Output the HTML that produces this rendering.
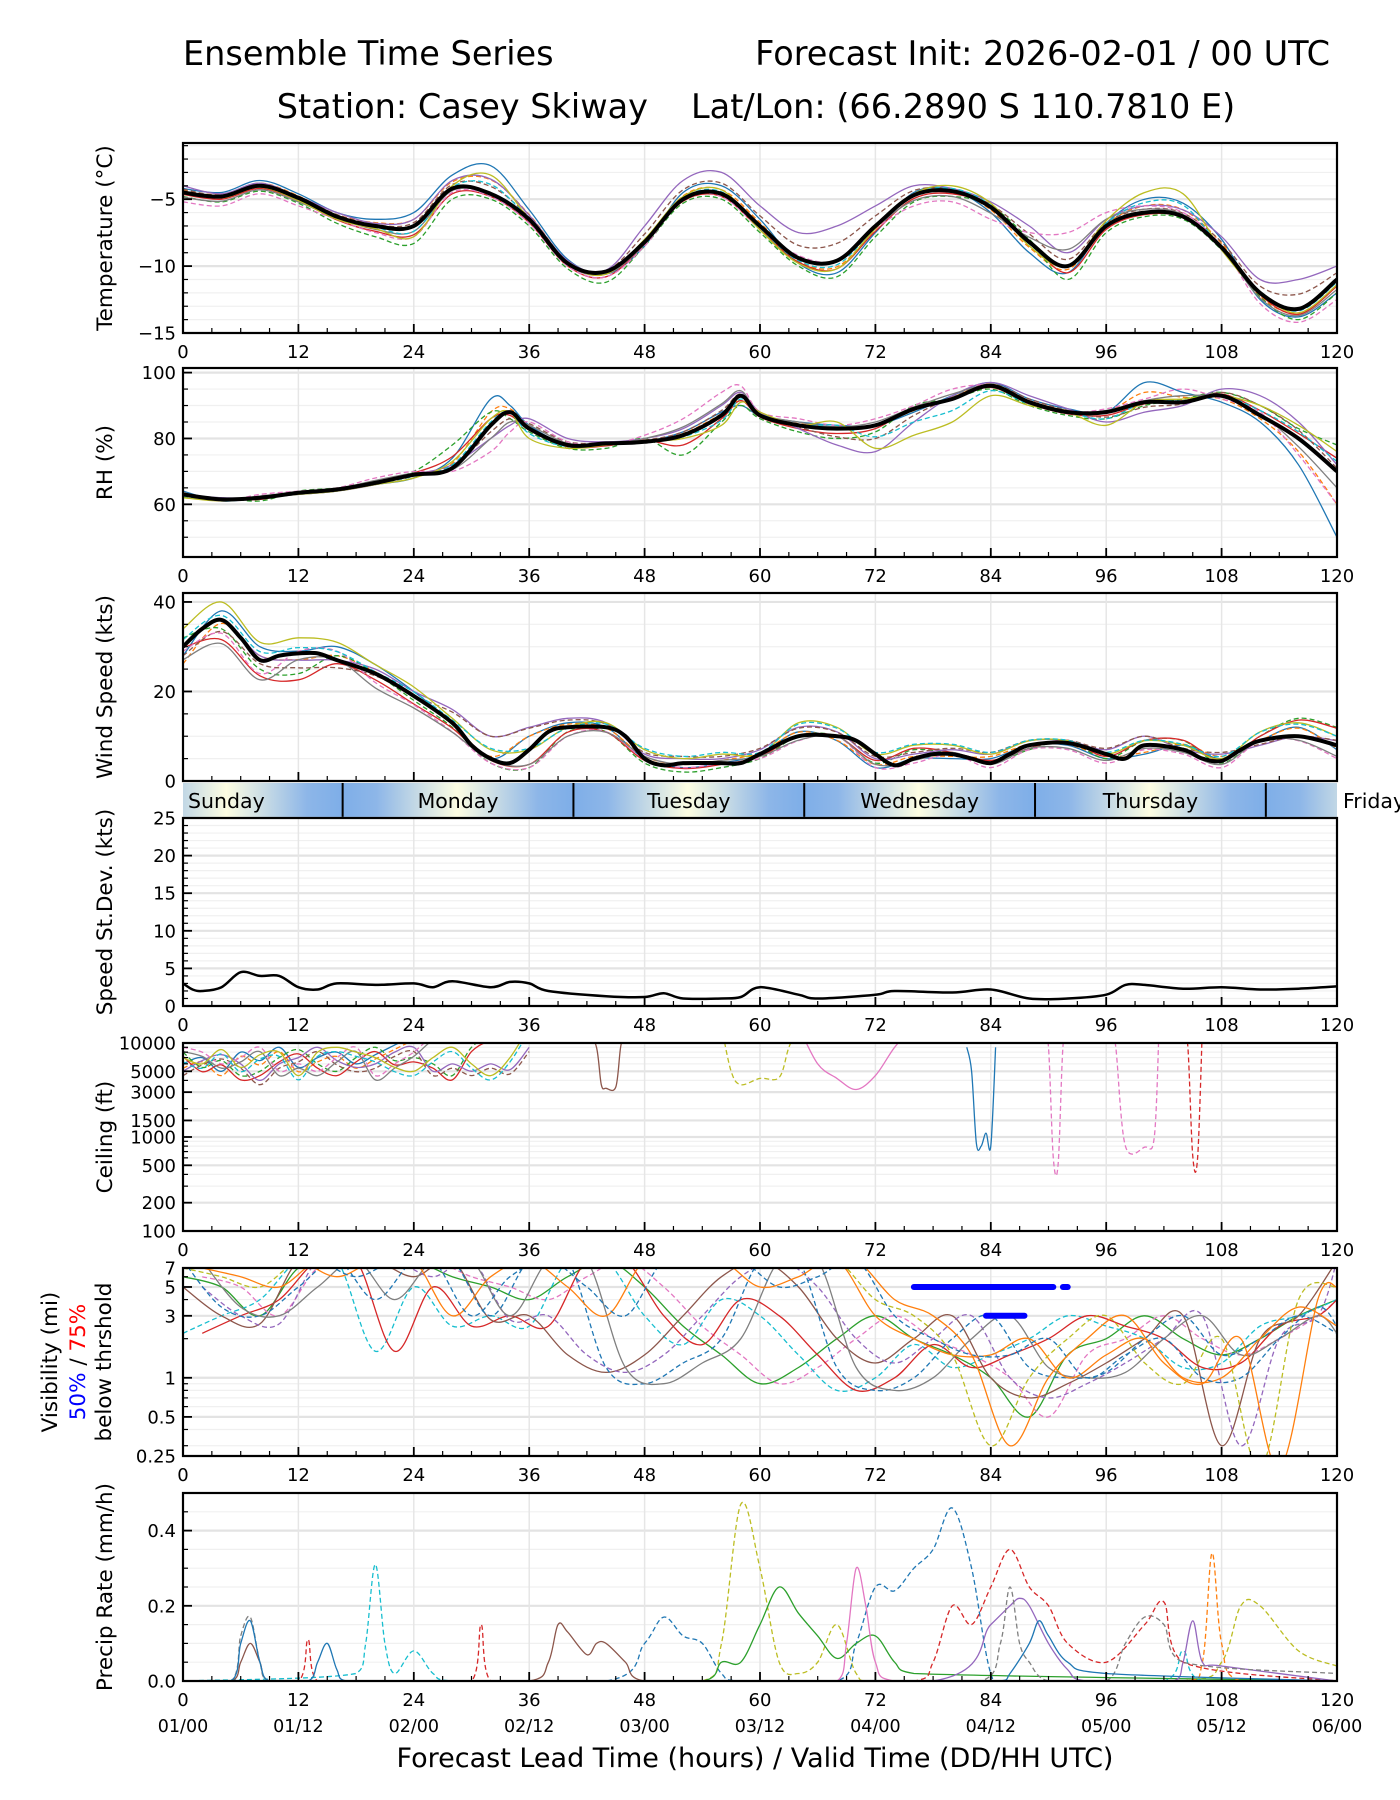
<!DOCTYPE html>
<html><head><meta charset="utf-8"><style>
html,body{margin:0;padding:0;background:#fff;}
svg{display:block;font-family:"DejaVu Sans","Liberation Sans",sans-serif;}
</style></head><body>
<svg id="fig" width="1400" height="1800" viewBox="0 0 1400 1800" xmlns="http://www.w3.org/2000/svg">
<defs>
<linearGradient id="dayGrad" gradientUnits="userSpaceOnUse" x1="341.7" y1="0" x2="572.5" y2="0" spreadMethod="repeat">
<stop offset="0" stop-color="#7eaee8"/><stop offset="0.15" stop-color="#8db6e8"/><stop offset="0.5" stop-color="#fdfde2"/><stop offset="0.85" stop-color="#8db6e8"/><stop offset="1" stop-color="#7eaee8"/>
</linearGradient>
</defs>
<text x="183" y="65" font-size="33.5">Ensemble Time Series</text>
<text x="1330" y="65" font-size="33.5" text-anchor="end">Forecast Init: 2026-02-01 / 00 UTC</text>
<text x="648" y="118" font-size="33.5" text-anchor="end">Station: Casey Skiway</text>
<text x="691" y="118" font-size="33.5">Lat/Lon: (66.2890 S 110.7810 E)</text>
<g id="root"></g>
</svg>
<script>
// ---------- data ----------
const hours4 = [0,4,8,12,16,20,24,28,32,36,40,44,48,52,56,60,64,68,72,76,80,84,88,92,96,100,104,108,112,116,120];
const tempMean = [-4.5,-4.8,-4.0,-4.9,-6.3,-7.0,-7.0,-4.2,-4.6,-6.5,-9.8,-10.4,-8.2,-5.0,-4.6,-7.0,-9.4,-9.6,-7.0,-4.7,-4.4,-5.6,-8.2,-10.0,-7.0,-6.0,-6.3,-8.6,-12.0,-13.2,-11.0];
const tempA = [-4.2,-4.5,-3.6,-4.6,-6.0,-6.5,-6.0,-3.2,-2.5,-5.8,-9.5,-10.6,-8.5,-4.5,-4.0,-6.5,-9.8,-10.5,-7.5,-4.5,-4.3,-6.0,-9.0,-10.5,-6.8,-5.0,-5.3,-8.0,-12.5,-13.8,-12.0];
const tempB = [-4.8,-5.2,-4.4,-5.3,-6.8,-7.8,-8.3,-5.0,-5.0,-7.0,-10.2,-11.2,-8.5,-5.3,-5.0,-7.5,-10.0,-10.8,-7.8,-5.2,-4.8,-5.5,-8.0,-11.0,-7.5,-6.3,-6.5,-8.8,-12.3,-14.0,-12.0];
const tempC = [-4.0,-4.6,-3.8,-4.8,-6.0,-6.8,-6.5,-3.6,-3.5,-6.2,-9.6,-10.3,-7.0,-3.6,-3.0,-5.5,-7.5,-7.0,-5.5,-4.0,-4.2,-5.2,-7.0,-9.0,-6.5,-5.5,-5.8,-7.8,-11.0,-11.0,-10.0];
const tempD = [-5.2,-5.5,-4.6,-5.5,-6.5,-7.5,-7.8,-4.5,-4.8,-6.8,-10.0,-10.8,-8.5,-5.0,-4.8,-7.2,-9.2,-9.6,-7.2,-5.5,-5.2,-6.5,-7.5,-7.5,-6.0,-5.5,-6.0,-8.5,-12.8,-14.2,-12.5];
const tempE = [-4.4,-4.9,-4.1,-5.1,-6.5,-7.2,-7.8,-4.0,-3.2,-6.5,-9.8,-10.6,-8.0,-4.8,-4.3,-7.3,-9.8,-10.2,-7.2,-4.6,-4.0,-5.3,-8.5,-10.0,-6.6,-4.5,-4.6,-8.8,-12.0,-13.5,-11.4];
const rhHours = [0,4,8,12,16,20,24,28,32,34,36,40,44,48,52,56,58,60,64,68,72,76,80,84,88,92,96,100,104,108,112,116,120];
const rhMean = [63,61.5,62,63.5,64.5,66.5,69,71,84,88,83,78,78.5,79,81,87,93,87,84,83,84,89,92,96,91,88,88,91,91,93,87,80,70];
const rhA = [64,61,62,63,64,66,68,74,92,90,84,78,78,79,82,88,90,87,85,84,84,88,93,97,92,89,88,97,94,91,85,72,50];
const rhB = [62,62,61,64,65,67,70,78,88,86,82,77,77,80,75,85,90,86,82,80,82,90,92,95,90,87,86,90,92,94,90,83,78];
const rhC = [63,62,62,63,64,66,69,72,80,84,86,80,79,80,83,90,94,88,83,78,76,85,93,97,93,89,85,88,90,95,93,85,72];
const rhD = [63,61,63,64,65,68,70,70,76,82,85,79,78,81,86,94,96,88,86,84,86,90,95,96,91,88,89,92,95,92,88,75,60];
const rhE = [62,61,62,63,64,66,68,73,86,88,80,77,78,79,80,84,91,88,84,85,77,81,85,93,90,88,84,91,92,93,90,84,76];
const windHours = [0,2,4,6,8,10,12,14,16,20,24,28,30,32,34,36,38,40,44,46,48,50,52,56,58,60,64,68,70,72,74,76,78,80,82,84,86,88,92,96,98,100,104,106,108,110,112,116,120];
const windMean = [30,34,36,32,27,28,28.5,28.5,27,24,19,13,8,5,4,7,11,12,12,10,5,3.5,4,4,4,6,10,10,9,6,3.5,5,6,6,5,4,6,8,8.5,6,5,8,7,5,4.5,7,9,10,8];
const windA = [28,38,30,29,30,26,20,13,5,10,13,12,5,3,4,6,11,9,3,5,5,5,8,8,5,6,8,5,9,12,7];
const windB = [32,34,25,24,28,24,18,12,4,3,11,11,4,2,3,5,10,10,4,7,6,4,7,9,5,9,9,4,10,14,12];
const windC = [30,36,28,27,27,25,20,16,10,12,14,13,6,5,5,7,12,11,5,6,7,6,9,9,7,10,7,6,8,10,9];
const windD = [29,33,24,29,29,22,17,11,4,3,10,11,5,3,4,5,9,10,3,4,6,3,7,7,4,7,6,3,9,9,5];
const windE = [34,40,31,32,31,26,21,14,7,7,12,13,7,5,6,6,13,12,6,8,8,6,9,9,6,9,8,5,11,13,10];
const sdHours = [0,1,2,4,6,8,10,12,14,16,20,24,26,28,32,34,36,38,44,48,50,52,56,58,60,64,66,72,74,80,84,88,92,96,98,100,104,108,112,116,120];
const sdValues = [3,2.2,2,2.5,4.5,4,4,2.5,2.2,3,2.8,3,2.5,3.3,2.5,3.2,3,2,1.3,1.2,1.7,1,1,1.2,2.5,1.5,1,1.5,2,1.8,2.2,1,1,1.5,2.8,2.8,2.3,2.5,2.2,2.3,2.6];
const ceilHours = [0,2,4,6,8,10,12,14,16,18,20,22,24,26,28,30,32,34,36];
const ceil1 = [6000,7000,5000,8000,6500,9000,5500,7000,8000,6000,7500,9500,12000,15000,15000,15000,15000,15000,15000];
const ceil2 = [8000,5500,6500,4500,5000,7000,8500,6000,5000,7000,9000,6500,7000,6000,4500,9000,12000,15000,15000];
const ceil3 = [5000,6500,7500,6000,4000,6000,7000,9000,6500,5500,6000,8000,9000,5000,6000,5000,6000,5200,9000];
const ceil4 = [9000,8000,6000,7000,9000,5000,6000,5000,7000,9000,4500,6000,8000,12000,15000,15000,15000,15000,15000];
const ceil5 = [7000,6000,8500,5500,7500,8000,4500,8000,9000,8000,7000,5500,5000,7000,9000,6000,4500,7000,15000];
const ceilDip1H = [42,43,43.5,44,45,45.5,46], ceilDip1V = [15000,9000,3600,3300,3400,9000,15000];
const ceilDip2H = [81.5,82,82.5,83,83.5,84,84.5], ceilDip2V = [9000,5000,850,800,1100,800,9000];
const ceilDip3H = [89.5,90,90.5,91,91.5,92], ceilDip3V = [15000,9000,600,510,9000,15000];
const ceilDip4H = [96.5,97,98,100,101,101.5], ceilDip4V = [15000,9000,800,780,1000,15000];
const ceilDip5H = [104,104.5,105,105.5,106], ceilDip5V = [15000,9000,620,600,15000];
const ceilDip6H = [64,66,68,70,72,74,76], ceilDip6V = [15000,6000,4200,3200,4500,9000,15000];
const ceilDip7H = [56,57,58,60,62,63,64], ceilDip7V = [15000,5000,3600,4200,4300,9000,15000];
const visHours = [0,4,8,12,16,20,24,28,32,36,40,44,48,52,56,60,64,68,72,76,80,84,88,92,96,100,104,108,112,116,120];
const vis1 = [6,5,3,7,8,8,8,6,5,4,6,8,5,2.5,1.5,0.9,1.2,2,3,2,1.5,1,0.5,1.5,2,3,2,1.5,2,3,4];
const vis2 = [2.2,3,4,8,8,1.6,5,2.5,3,2.5,8,8,3,1.8,4,3,1.5,0.8,1,1.8,1.2,1.5,2,3,2.5,2,1.2,1.3,2.5,3,4];
const vis3 = [5,3,2.6,8,8,8,6,8,2.8,3,1.5,1.1,1.5,3,6,8,5,2,1.3,2,3,1,0.7,0.9,1.3,2,3,0.3,2,3,8];
const vis4 = [8,3.5,3,5,8,4,8,8,3,8,8,1.2,0.9,1.3,2,8,8,1.2,0.8,1,2,3,1.2,1,1.1,2,3,1.5,2,3,2.2];
const vis5 = [8,8,8,8,6,8,8,3,6,8,5,3,8,8,8,5,6,8,3,2,1.5,1.5,2,1,1.5,2,1,1,2,3.5,2.5];
const vis6 = [7,6,5,8,8,8,8,8,8,8,8,8,8,8,8,8,8,8,4,3,1.5,0.3,1,2,3,1.3,0.9,2,0.2,4,5];
const visBar50 = [[76,90.5],[91.5,92]], visBar50Level = 5;
const visBar75 = [[83.5,87.5]], visBar75Level = 3;
const precipHours = [
 [0,54,56,58,60,62,64,66,68,70,72,104,108,110,112,116,120],
 [0,44,48,50,52,54,56,58,68,70,72,74,76,78,80,82,84,86,120],
 [0,54,56,58,60,62,64,66,68,70,72,74,76,120],
 [0,12,13,14,30,31,32,76,78,80,82,84,86,88,90,92,96,100,102,104,120],
 [0,18,19,20,21,22,24,26,28,102,104,106,120],
 [0,68,69,70,71,72,74,120],
 [0,104,106,107,108,110,120],
 [0,5,6,7,8,9,36,38,39,40,42,43,44,46,48,120],
 [0,78,84,86,87,88,90,92,94,103,104,105,106,108,120],
 [0,5,6,7,8,9,83,85,86,87,88,90,96,98,100,102,104,120],
 [0,5,6,7,8,9,13,14,15,16,17,85,86,88,89,90,92,96,120]];
const precipValues = [
 [0,0,0.1,0.47,0.3,0.05,0.02,0.05,0.15,0.02,0,0,0.05,0.2,0.2,0.08,0.04],
 [0,0,0.1,0.17,0.12,0.1,0.02,0,0,0.1,0.25,0.24,0.3,0.35,0.46,0.3,0.02,0,0],
 [0,0,0.05,0.05,0.15,0.25,0.18,0.12,0.06,0.1,0.12,0.05,0.02,0],
 [0,0,0.11,0,0,0.15,0,0,0.05,0.2,0.15,0.25,0.35,0.25,0.2,0.1,0.05,0.15,0.21,0.05,0],
 [0,0.02,0.1,0.31,0.1,0.02,0.08,0.02,0,0,0.08,0,0],
 [0,0,0.1,0.3,0.2,0.05,0,0],
 [0,0,0.05,0.34,0.1,0,0],
 [0,0,0.05,0.1,0.05,0,0,0.05,0.15,0.13,0.07,0.1,0.1,0.05,0,0],
 [0,0,0.15,0.2,0.22,0.2,0.1,0.03,0,0,0.05,0.16,0.05,0.04,0],
 [0,0,0.12,0.17,0.05,0,0,0.1,0.25,0.1,0.05,0,0,0.1,0.17,0.15,0.05,0.02],
 [0,0,0.1,0.16,0.05,0,0,0.05,0.1,0.03,0,0,0.02,0.1,0.16,0.12,0.05,0.02,0]];
const xTicks = [0,12,24,36,48,60,72,84,96,108,120];
const dateLabels = ["01/00","01/12","02/00","02/12","03/00","03/12","04/00","04/12","05/00","05/12","06/00"];
const dayNames = ["Sunday","Monday","Tuesday","Wednesday","Thursday","Friday"];
const dayBoundaries = [16.6,40.6,64.6,88.6,112.6];

// ---------- drawing ----------
const NS="http://www.w3.org/2000/svg";
const root=document.getElementById('root');
const X0=183, X1=1337;
const xs=h=>X0+(h/120)*(X1-X0);
const COLORS=["#1f77b4","#ff7f0e","#2ca02c","#d62728","#9467bd","#8c564b","#e377c2","#7f7f7f","#bcbd22","#17becf"];
function el(tag,attrs,parent){const e=document.createElementNS(NS,tag);for(const k in attrs)e.setAttribute(k,attrs[k]);(parent||root).appendChild(e);return e;}
function smoothPath(pts){
 if(pts.length<2)return "";
 let d="M"+pts[0][0].toFixed(1)+","+pts[0][1].toFixed(1);
 for(let i=0;i<pts.length-1;i++){
  const p0=pts[i-1]||pts[i],p1=pts[i],p2=pts[i+1],p3=pts[i+2]||p2;
  const c1=[p1[0]+(p2[0]-p0[0])/6,p1[1]+(p2[1]-p0[1])/6],c2=[p2[0]-(p3[0]-p1[0])/6,p2[1]-(p3[1]-p1[1])/6];
  c1[0]=Math.min(Math.max(c1[0],p1[0]),p2[0]);c2[0]=Math.min(Math.max(c2[0],p1[0]),p2[0]);
  d+="C"+c1[0].toFixed(1)+","+c1[1].toFixed(1)+" "+c2[0].toFixed(1)+","+c2[1].toFixed(1)+" "+p2[0].toFixed(1)+","+p2[1].toFixed(1);
 }
 return d;
}
const fmt=v=>String(v).replace('-','\u2212');
let clipId=0;
function panel(cfg){
 const g=el('g',{});
 
 
 const T=cfg.top,B=cfg.bottom;
 const ys=cfg.ys;
 (cfg.minorY||[]).forEach(v=>{const l=el('line',{x1:X0,x2:X1,y1:ys(v),y2:ys(v),stroke:'#f0f0f0','stroke-width':1.2},g);
  });
 cfg.yTicks.forEach(v=>{const l=el('line',{x1:X0,x2:X1,y1:ys(v),y2:ys(v),stroke:'#e3e3e3','stroke-width':2.2},g);
  });
 xTicks.forEach(h=>{const l=el('line',{x1:xs(h),x2:xs(h),y1:T,y2:B,stroke:'#e6e6e6','stroke-width':1.5},g);
  });
 clipId++;
 const cp=el('clipPath',{id:'cp'+clipId},g);el('rect',{x:X0,y:T,width:X1-X0,height:B-T},cp);
 const dg=el('g',{'clip-path':'url(#cp'+clipId+')'},g);
 
 
 cfg.draw(dg,ys);
 const fr=el('rect',{x:X0,y:T,width:X1-X0,height:B-T,fill:'none',stroke:'#000','stroke-width':2.2},g);
 
 for(let h=0;h<=120;h+=3){const maj=h%12===0;el('line',{x1:xs(h),x2:xs(h),y1:B,y2:B-(maj?9:5),stroke:'#000','stroke-width':maj?1.8:1.2},g);}
 if(cfg.xlabels!==false) xTicks.forEach(h=>{const t=el('text',{x:xs(h),y:B+25,'font-size':18,'text-anchor':'middle'},g);t.textContent=h;
  });
 (cfg.minorY||[]).forEach(v=>el('line',{x1:X0,x2:X0+5,y1:ys(v),y2:ys(v),stroke:'#000','stroke-width':1.2},g));
 cfg.yTicks.forEach((v,i)=>{el('line',{x1:X0,x2:X0+9,y1:ys(v),y2:ys(v),stroke:'#000','stroke-width':1.8},g);
  const t=el('text',{x:X0-7,y:ys(v)+6.5,'font-size':18,'text-anchor':'end'},g);t.textContent=cfg.yLabels?cfg.yLabels[i]:fmt(v);
  });
 if(cfg.ylabel){const cy=(T+B)/2;const lx=cfg.ylx||112;const t=el('text',{x:lx,y:cy,'font-size':21.5,'text-anchor':'middle',transform:`rotate(-90 ${lx} ${cy})`},g);
  t.textContent=cfg.ylabel;}
 return g;
}
function line(g,hs,vs,ys,color,opt){
 opt=opt||{};
 const pts=hs.map((h,i)=>[xs(h),ys(vs[i])]);
 const p=el('path',{d:smoothPath(pts),fill:'none',stroke:color,'stroke-width':opt.w||1.3,'stroke-dasharray':opt.dash?'5,3':'none','stroke-linejoin':'round'},g);
 
 
 return p;
}
function lin(a,b){return v=>a.y0+(v-a.v0)*(b.y0-a.y0)/(b.v0-a.v0);}

const tempMembers=[tempA,tempB,tempC,tempD,tempE];
panel({name:'temperature',top:143,bottom:333,ys:lin({v0:-15,y0:333},{v0:-0.8,y0:143}),
 yTicks:[-15,-10,-5],minorY:[-14,-13,-12,-11,-9,-8,-7,-6,-4,-3,-2,-1],ylabel:'Temperature (°C)',
 draw:(g,ys)=>{tempMembers.forEach((m,i)=>{line(g,hours4,m,ys,COLORS[i*2%10],{dash:i%2===1});line(g,hours4,m.map((v,j)=>v+(tempMean[j]-v)*0.5),ys,COLORS[(i*2+1)%10],{dash:i%2===0});});
  line(g,hours4,tempMean,ys,'#000',{w:4,name:'ensemble-mean-line'});}});
const rhMembers=[rhA,rhB,rhC,rhD,rhE];
panel({name:'rh',top:368,bottom:557,ys:lin({v0:44,y0:557},{v0:101.4,y0:368}),
 yTicks:[60,80,100],minorY:[50,55,65,70,75,85,90,95],ylabel:'RH (%)',
 draw:(g,ys)=>{rhMembers.forEach((m,i)=>{line(g,rhHours,m,ys,COLORS[i*2%10],{dash:i%2===1});line(g,rhHours,m.map((v,j)=>v+(rhMean[j]-v)*0.5),ys,COLORS[(i*2+1)%10],{dash:i%2===0});});
  line(g,rhHours,rhMean,ys,'#000',{w:4,name:'ensemble-mean-line'});}});
const windMembers=[windA,windB,windC,windD,windE];
panel({name:'wind-speed',top:593,bottom:781,xlabels:false,ys:lin({v0:0,y0:781},{v0:42,y0:593}),
 yTicks:[0,20,40],minorY:[5,10,15,25,30,35],ylabel:'Wind Speed (kts)',
 draw:(g,ys)=>{windMembers.forEach((m,i)=>{line(g,hours4,m,ys,COLORS[i*2%10],{dash:i%2===1});line(g,hours4,m.map((v,j)=>v*0.9+1),ys,COLORS[(i*2+1)%10],{dash:i%2===0});});
  line(g,windHours,windMean,ys,'#000',{w:4,name:'ensemble-mean-line'});}});
(function(){
 const g=el('g',{});
 el('rect',{x:X0,y:783,width:X1-X0,height:34,fill:'url(#dayGrad)'},g);
 dayBoundaries.forEach(h=>{const l=el('line',{x1:xs(h),x2:xs(h),y1:783,y2:817,stroke:'#000','stroke-width':2},g);});
 dayNames.forEach((n,i)=>{let x,anchor='middle';
  if(i===0){x=188;anchor='start';}else if(i===5){x=1343;anchor='start';}else x=xs(dayBoundaries[i-1]+12);
  const t=el('text',{x:x,y:808,'font-size':20.5,'text-anchor':anchor},g);t.textContent=n;});
})();
panel({name:'speed-stdev',top:818,bottom:1006,ys:lin({v0:0,y0:1006},{v0:25,y0:818}),
 yTicks:[0,5,10,15,20,25],minorY:[1,2,3,4,6,7,8,9,11,12,13,14,16,17,18,19,21,22,23,24],ylabel:'Speed St.Dev. (kts)',
 draw:(g,ys)=>{line(g,sdHours,sdValues,ys,'#000',{w:2.5,name:'stdev-line'});}});
const logY=(vTop,yTop,vBot,yBot)=>v=>yBot+(Math.log(v)-Math.log(vBot))*(yTop-yBot)/(Math.log(vTop)-Math.log(vBot));
panel({name:'ceiling',top:1043,bottom:1231,ys:logY(10000,1043,100,1231),
 yTicks:[100,200,500,1000,1500,3000,5000,10000],minorY:[300,400,600,700,800,900,2000,4000,6000,7000,8000,9000],ylabel:'Ceiling (ft)',
 draw:(g,ys)=>{[ceil1,ceil2,ceil3,ceil4,ceil5].forEach((m,i)=>{line(g,ceilHours,m,ys,COLORS[i*2%10],{dash:i%2===1});line(g,ceilHours,m.map(v=>v*0.9),ys,COLORS[(i*2+1)%10],{dash:i%2===0});});
  line(g,ceilDip1H,ceilDip1V,ys,COLORS[5]);line(g,ceilDip2H,ceilDip2V,ys,COLORS[0]);
  line(g,ceilDip3H,ceilDip3V,ys,COLORS[6],{dash:true});line(g,ceilDip4H,ceilDip4V,ys,COLORS[6],{dash:true});
  line(g,ceilDip5H,ceilDip5V,ys,COLORS[3],{dash:true});line(g,ceilDip6H,ceilDip6V,ys,COLORS[6]);line(g,ceilDip7H,ceilDip7V,ys,COLORS[8],{dash:true});}});
panel({name:'visibility',top:1268,bottom:1456,ys:logY(7,1268,0.25,1456),
 yTicks:[0.25,0.5,1,3,5,7],yLabels:['0.25','0.5','1','3','5','7'],minorY:[0.3,0.4,0.6,0.7,0.8,0.9,2,4,6],
 draw:(g,ys)=>{[vis1,vis2,vis3,vis4,vis5,vis6].forEach((m,i)=>{line(g,visHours,m,ys,COLORS[[2,9,5,0,1,8][i]],{dash:i%2===1});line(g,visHours.map(h=>Math.min(120,h+2)),m,ys,COLORS[[6,3,4,7,0,1][i]],{dash:i%2===0});});
  visBar50.forEach(s=>{const l=el('line',{x1:xs(s[0]),x2:xs(s[1]),y1:ys(visBar50Level),y2:ys(visBar50Level),stroke:'#0000ff','stroke-width':6,'stroke-linecap':'round'},g);});
  visBar75.forEach(s=>{const l=el('line',{x1:xs(s[0]),x2:xs(s[1]),y1:ys(visBar75Level),y2:ys(visBar75Level),stroke:'#0000ff','stroke-width':6,'stroke-linecap':'round'},g);});
 }});
(function(){const cy=1362;const g=el('g',{});
 const t1=el('text',{x:57,y:cy,'font-size':21.5,'text-anchor':'middle',transform:`rotate(-90 57 ${cy})`},g);t1.textContent='Visibility (mi)';
 const t2=el('text',{x:85,y:cy,'font-size':21.5,'text-anchor':'middle',transform:`rotate(-90 85 ${cy})`},g);
 const a=el('tspan',{fill:'#0000ff'},t2);a.textContent='50%';const b=el('tspan',{fill:'#000'},t2);b.textContent=' / ';const c=el('tspan',{fill:'#ff0000'},t2);c.textContent='75%';
 const t3=el('text',{x:111,y:cy,'font-size':21.5,'text-anchor':'middle',transform:`rotate(-90 111 ${cy})`},g);t3.textContent='below thrshold';})();
panel({name:'precip',top:1493,bottom:1681,ys:lin({v0:0,y0:1681},{v0:0.5,y0:1493}),
 yTicks:[0,0.2,0.4],yLabels:['0.0','0.2','0.4'],minorY:[0.05,0.1,0.15,0.25,0.3,0.35,0.45],ylabel:'Precip Rate (mm/h)',
 draw:(g,ys)=>{precipHours.forEach((hs,i)=>line(g,hs,precipValues[i],ys,COLORS[[8,0,2,3,9,6,1,5,4,7,0][i]],{dash:[1,1,0,1,1,0,1,0,0,1,0][i]===1}));}});
dateLabels.forEach((d,i)=>{const t=el('text',{x:xs(xTicks[i]),y:1732,'font-size':17.5,'text-anchor':'middle'});t.textContent=d;
 });
const xl=el('text',{x:755,y:1767,'font-size':27,'text-anchor':'middle'});xl.textContent='Forecast Lead Time (hours) / Valid Time (DD/HH UTC)';


</script>
</body></html>
